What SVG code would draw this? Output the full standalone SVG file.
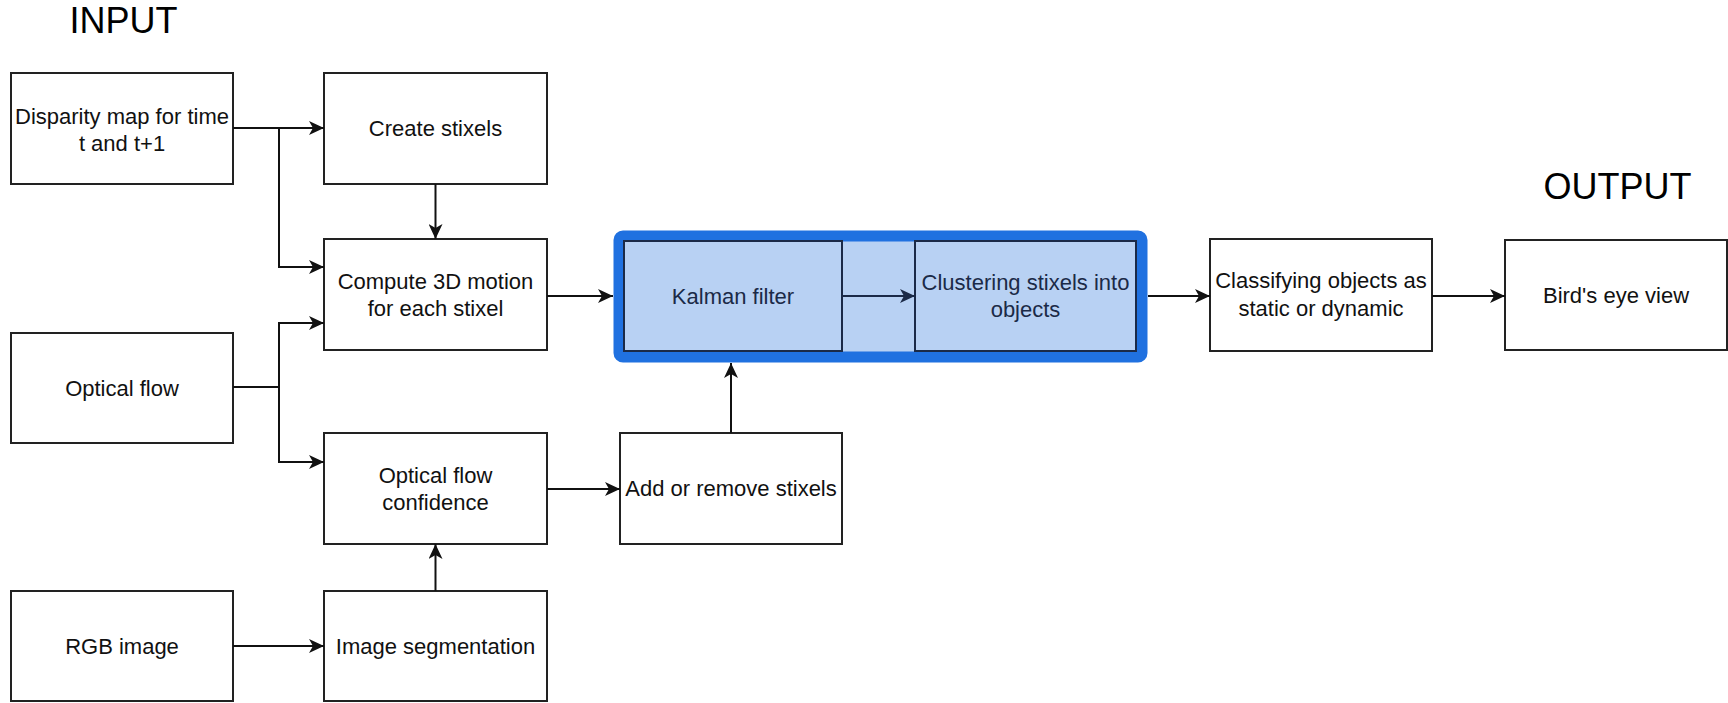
<svg xmlns="http://www.w3.org/2000/svg" width="1728" height="703" viewBox="0 0 1728 703">
<style>
.box{fill:#ffffff;stroke:#222222;stroke-width:2}
.inner{fill:#b8d1f3;stroke:#1b2a47;stroke-width:2}
.t{font-family:"Liberation Sans",Arial,sans-serif;font-size:22px;fill:#111111;text-anchor:middle}
.tn{font-family:"Liberation Sans",Arial,sans-serif;font-size:22px;fill:#1b2a47;text-anchor:middle}
.title{font-family:"Liberation Sans",Arial,sans-serif;font-size:36px;fill:#000000;text-anchor:middle}
.c{fill:none;stroke:#111111;stroke-width:2}
.cn{fill:none;stroke:#1b2a47;stroke-width:2}
</style>
<defs>
<marker id="arr" viewBox="0 0 15 14" refX="15" refY="7" markerWidth="15" markerHeight="14" markerUnits="userSpaceOnUse" orient="auto">
<path d="M0,0 L15,7 L0,14 L4,7 z" fill="#111111"/>
</marker>
<marker id="arrn" viewBox="0 0 15 14" refX="15" refY="7" markerWidth="15" markerHeight="14" markerUnits="userSpaceOnUse" orient="auto">
<path d="M0,0 L15,7 L0,14 L4,7 z" fill="#1b2a47"/>
</marker>
</defs>
<rect width="1728" height="703" fill="#ffffff"/>
<text class="title" x="123.5" y="33">INPUT</text>
<text class="title" x="1617.5" y="199">OUTPUT</text>

<g id="container">
<rect x="619" y="236" width="523" height="121" rx="4" fill="#b8d1f3" stroke="#2071e0" stroke-width="11"/>
</g>

<g id="disparity">
<rect class="box" x="11" y="73" width="222" height="111"/>
<text class="t" x="122" y="123.5">Disparity map for time</text>
<text class="t" x="122" y="150.5">t and t+1</text>
</g>
<g id="create">
<rect class="box" x="324" y="73" width="223" height="111"/>
<text class="t" x="435.5" y="136">Create stixels</text>
</g>
<g id="compute">
<rect class="box" x="324" y="239" width="223" height="111"/>
<text class="t" x="435.5" y="289">Compute 3D motion</text>
<text class="t" x="435.5" y="316">for each stixel</text>
</g>
<g id="optical">
<rect class="box" x="11" y="333" width="222" height="110"/>
<text class="t" x="122" y="395.5">Optical flow</text>
</g>
<g id="confidence">
<rect class="box" x="324" y="433" width="223" height="111"/>
<text class="t" x="435.5" y="483">Optical flow</text>
<text class="t" x="435.5" y="510">confidence</text>
</g>
<g id="rgb">
<rect class="box" x="11" y="591" width="222" height="110"/>
<text class="t" x="122" y="653.5">RGB image</text>
</g>
<g id="segmentation">
<rect class="box" x="324" y="591" width="223" height="110"/>
<text class="t" x="435.5" y="653.5">Image segmentation</text>
</g>
<g id="addremove">
<rect class="box" x="620" y="433" width="222" height="111"/>
<text class="t" x="731" y="496">Add or remove stixels</text>
</g>
<g id="kalman">
<rect class="inner" x="624" y="241" width="218" height="110"/>
<text class="tn" x="733" y="303.5">Kalman filter</text>
</g>
<g id="clustering">
<rect class="inner" x="915" y="241" width="221" height="110"/>
<text class="tn" x="1025.5" y="290">Clustering stixels into</text>
<text class="tn" x="1025.5" y="317">objects</text>
</g>
<g id="classifying">
<rect class="box" x="1210" y="239" width="222" height="112"/>
<text class="t" x="1321" y="288">Classifying objects as</text>
<text class="t" x="1321" y="316">static or dynamic</text>
</g>
<g id="birdseye">
<rect class="box" x="1505" y="240" width="222" height="110"/>
<text class="t" x="1616" y="303">Bird's eye view</text>
</g>

<g id="connectors">
<path class="c" d="M233,128 H324" marker-end="url(#arr)"/>
<path class="c" d="M279,128 V267 H324" marker-end="url(#arr)"/>
<path class="c" d="M435.5,184 V239" marker-end="url(#arr)"/>
<path class="c" d="M233,387 H279 V323 H324" marker-end="url(#arr)"/>
<path class="c" d="M279,387 V462 H324" marker-end="url(#arr)"/>
<path class="c" d="M233,646 H324" marker-end="url(#arr)"/>
<path class="c" d="M435.5,591 V544" marker-end="url(#arr)"/>
<path class="c" d="M547,296 H613" marker-end="url(#arr)"/>
<path class="c" d="M547,489 H620" marker-end="url(#arr)"/>
<path class="c" d="M731,433 V363" marker-end="url(#arr)"/>
<path class="cn" d="M842,296 H915" marker-end="url(#arrn)"/>
<path class="c" d="M1148,296 H1210" marker-end="url(#arr)"/>
<path class="c" d="M1432,296 H1505" marker-end="url(#arr)"/>
</g>
</svg>
